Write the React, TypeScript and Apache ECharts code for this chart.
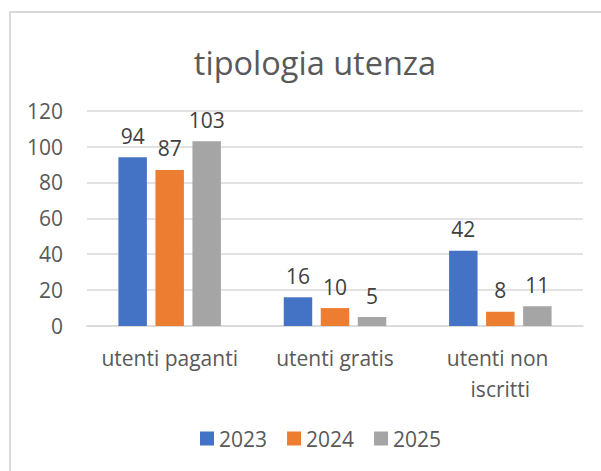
import React, { useEffect, useRef } from "react";
import * as echarts from "echarts";

const categories = ["utenti paganti", "utenti gratis", "utenti non iscritti"];
const seriesNames = ["2023", "2024", "2025"];
const values2023 = [94, 16, 42];
const values2024 = [87, 10, 8];
const values2025 = [103, 5, 11];
const colors = ["#4472C4", "#ED7D31", "#A5A5A5"];
const yTicks = { min: 0, max: 120, interval: 20 };

const FONT = "'Open Sans', 'Noto Sans', sans-serif";

export default function App() {
  const ref = useRef<HTMLDivElement>(null);
  useEffect(() => {
    if (!ref.current) return;
    const chart = echarts.init(ref.current, undefined, { renderer: "svg" });
    const data = [values2023, values2024, values2025];
    chart.setOption({
      animation: false,
      backgroundColor: "#ffffff",
      textStyle: { fontFamily: FONT },
      title: {
        text: "tipologia utenza",
        left: 310,
        textAlign: "center",
        top: 41,
        textStyle: { fontFamily: FONT, fontSize: 32.5, fontWeight: "normal", color: "#595959" },
      },
      graphic: [
        {
          type: "rect",
          shape: { x: 10, y: 12, width: 700, height: 600 },
          style: { fill: "none", stroke: "#d9d9d9", lineWidth: 2 },
          silent: true,
        },
      ],
      legend: {
        data: seriesNames,
        bottom: 17,
        left: 195,
        itemWidth: 14,
        itemHeight: 14,
        itemGap: 20,
        icon: "rect",
        textStyle: { fontFamily: FONT, fontSize: 21, color: "#595959", padding: [0, 0, 0, 0] },
      },
      grid: { left: 87, right: 18, top: 110.7, bottom: 145, containLabel: false },
      xAxis: {
        type: "category",
        data: categories,
        axisLine: { show: true, lineStyle: { color: "#d9d9d9", width: 1.5 } },
        axisTick: { show: false },
        axisLabel: {
          fontFamily: FONT,
          fontSize: 21,
          color: "#595959",
          margin: 16,
          lineHeight: 31,
          width: 155,
          overflow: "break",
          interval: 0,
        },
      },
      yAxis: {
        type: "value",
        min: yTicks.min,
        max: yTicks.max,
        interval: yTicks.interval,
        axisLine: { show: false },
        axisTick: { show: false },
        splitLine: { show: true, lineStyle: { color: "#d9d9d9", width: 1.5 } },
        axisLabel: { fontFamily: FONT, fontSize: 21, color: "#595959", margin: 24 },
      },
      series: seriesNames.map((name, i) => ({
        name,
        type: "bar",
        data: data[i],
        barGap: "30%",
        barCategoryGap: "38%",
        itemStyle: { color: colors[i] },
        label: {
          show: true,
          position: "top",
          distance: 11,
          fontFamily: FONT,
          fontSize: 21,
          color: "#404040",
        },
      })),
    });
    return () => chart.dispose();
  }, []);
  return (
    <div
      ref={ref}
      style={{ position: "fixed", left: 0, top: 0, width: 601, height: 471 }}
    />
  );
}
